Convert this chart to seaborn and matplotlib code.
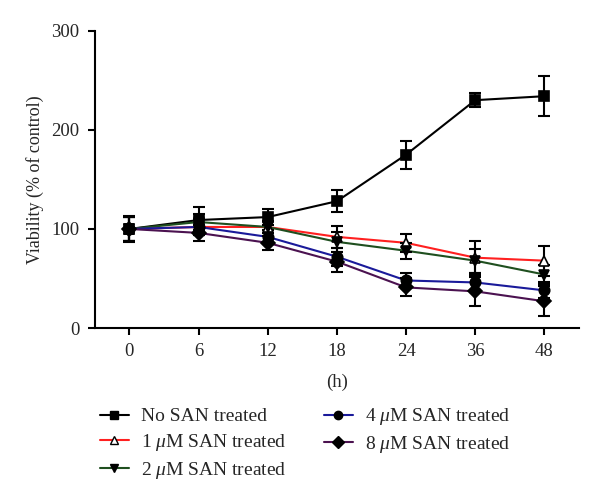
import numpy as np
import pandas as pd
import seaborn as sns
import matplotlib.pyplot as plt

hours = ["0", "6", "12", "18", "24", "36", "48"]
series = ["No SAN treated", "1 $\\mu$M SAN treated", "2 $\\mu$M SAN treated",
          "4 $\\mu$M SAN treated", "8 $\\mu$M SAN treated"]

no_san = [100, 109, 112, 128, 175, 230, 234]
san_1 = [100, 102, 102, 92, 86, 71, 68]
san_2 = [100, 107, 102, 87, 78, 68, 54]
san_4 = [100, 102, 92, 72, 48, 46, 38]
san_8 = [100, 96, 86, 67, 41, 37, 27]

err_no = [13, 13, 8, 11, 14, 7, 20]
err_1 = [12, 8, 6, 11, 9, 17, 15]
err_2 = [12, 8, 6, 10, 8, 12, 10]
err_4 = [12, 8, 7, 9, 8, 10, 8]
err_8 = [12, 8, 7, 10, 9, 15, 15]

colors = ["black", "#ff2020", "#1f4f1f", "#1a1a9a", "#4b1250"]
markers = ["s", "^", "v", "o", "D"]
marker_sizes = [7.5, 7.5, 7.5, 7.5, 7.5]

values = [no_san, san_1, san_2, san_4, san_8]
errors = [err_no, err_1, err_2, err_4, err_8]

rows = []
for name, vals, errs in zip(series, values, errors):
    for i, (v, e) in enumerate(zip(vals, errs)):
        rows.append({"series": name, "pos": i, "value": v, "err": e})
df = pd.DataFrame(rows)

sns.set_theme(style="ticks")
plt.rcParams["font.family"] = ["Liberation Serif", "DejaVu Serif"]
plt.rcParams["mathtext.fontset"] = "custom"
plt.rcParams["mathtext.it"] = "Liberation Serif:italic"
plt.rcParams["mathtext.rm"] = "Liberation Serif"

fig = plt.figure(figsize=(6, 4.97), dpi=100)
ax = fig.add_axes([0.158, 0.34, 0.807, 0.598])

sns.lineplot(data=df, x="pos", y="value", hue="series", hue_order=series,
             palette=colors, linewidth=1.5, legend=False, ax=ax, zorder=2)

for name, col, mk, ms in zip(series, colors, markers, marker_sizes):
    sub = df[df["series"] == name]
    face = "white" if mk == "^" else "black"
    ax.errorbar(sub["pos"], sub["value"], yerr=sub["err"], fmt="none",
                ecolor="black", elinewidth=1.5, capsize=4, capthick=1.5, zorder=3)
    ax.plot(sub["pos"], sub["value"], linestyle="none", marker=mk, markersize=ms,
            markerfacecolor=face, markeredgecolor="black", markeredgewidth=1.2, zorder=4)

ax.set_xlim(-0.5, 6.5)
ax.set_ylim(0, 300)
ax.set_xticks(range(len(hours)))
ax.set_xticklabels(hours)
ax.set_yticks([0, 100, 200, 300])
ax.spines["top"].set_visible(False)
ax.spines["right"].set_visible(False)
for s in ["left", "bottom"]:
    ax.spines[s].set_linewidth(1.5)
    ax.spines[s].set_color("black")
ax.tick_params(axis="both", direction="out", length=5, width=1.5, color="black",
               labelsize=13.5, pad=6)
ax.set_xlabel("(h)", fontsize=13.5, labelpad=10)
ax.set_ylabel("Viability (% of control)", fontsize=13, labelpad=5)

handles = []
for name, col, mk in zip(series, colors, markers):
    face = "white" if mk == "^" else "black"
    h, = ax.plot([], [], color=col, linewidth=1.5, marker=mk, markersize=6,
                 markerfacecolor=face, markeredgecolor="black")
    handles.append(h)

fig.legend(handles, series, loc="upper left", bbox_to_anchor=(0.150, 0.202),
           ncol=2, frameon=False, fontsize=14, handlelength=1.5, borderpad=0,
           handletextpad=0.6, columnspacing=1.95, labelspacing=0.35)

fig.savefig("out.png", dpi=100)
